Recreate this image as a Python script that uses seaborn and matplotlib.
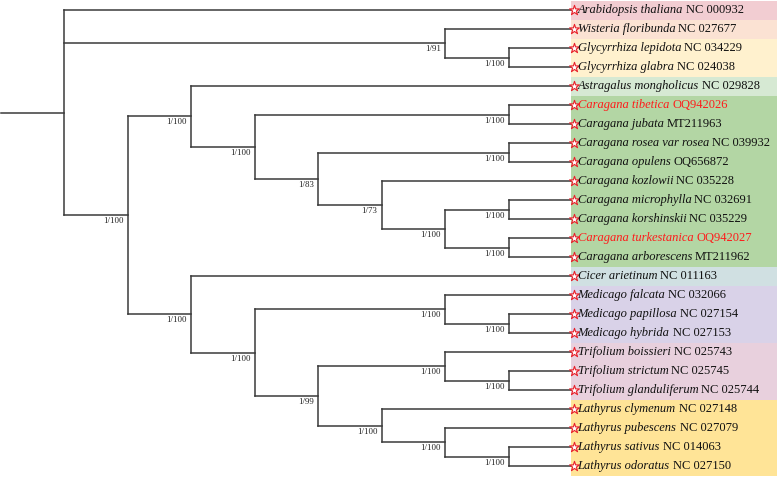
import matplotlib
matplotlib.use("Agg")
import matplotlib.pyplot as plt
import seaborn as sns
import pandas as pd

# ---------------- data ----------------
species = [
    "Arabidopsis thaliana", "Wisteria floribunda", "Glycyrrhiza lepidota", "Glycyrrhiza glabra",
    "Astragalus mongholicus", "Caragana tibetica", "Caragana jubata", "Caragana rosea var rosea",
    "Caragana opulens", "Caragana kozlowii", "Caragana microphylla", "Caragana korshinskii",
    "Caragana turkestanica", "Caragana arborescens", "Cicer arietinum", "Medicago falcata",
    "Medicago papillosa", "Medicago hybrida", "Trifolium boissieri", "Trifolium strictum",
    "Trifolium glanduliferum", "Lathyrus clymenum", "Lathyrus pubescens", "Lathyrus sativus",
    "Lathyrus odoratus",
]
accessions = [
    "NC 000932", "NC 027677", "NC 034229", "NC 024038", "NC 029828", "OQ942026", "MT211963",
    "NC 039932", "OQ656872", "NC 035228", "NC 032691", "NC 035229", "OQ942027", "MT211962",
    "NC 011163", "NC 032066", "NC 027154", "NC 027153", "NC 025743", "NC 025745", "NC 025744",
    "NC 027148", "NC 027079", "NC 014063", "NC 027150",
]
highlighted = ["Caragana tibetica", "Caragana turkestanica"]

# topology (leaf numbers index the lists above), internal labels = support values
newick = ("(0,(1,(2,3)1/100)1/91,((4,((5,6)1/100,((7,8)1/100,(9,((10,11)1/100,(12,13)1/100)1/100)1/73)1/83)1/100)1/100,"
          "(14,((15,(16,17)1/100)1/100,((18,(19,20)1/100)1/100,(21,(22,(23,24)1/100)1/100)1/100)1/99)1/100)1/100)1/100);")

group_sizes = [1, 1, 2, 1, 9, 1, 3, 3, 4]
group_colors = ["#F2CDD2", "#FBE2D3", "#FFF1CE", "#D6E9D3", "#B3D6A4",
                "#D0E0E2", "#D9D2E8", "#E8D0DD", "#FFE497"]

# ---------------- parse tree ----------------
def parse(s):
    pos = 0
    def node():
        nonlocal pos
        if s[pos] == "(":
            pos += 1
            kids = [node()]
            while s[pos] == ",":
                pos += 1
                kids.append(node())
            pos += 1  # ')'
            lab = ""
            while s[pos] not in ",);":
                lab += s[pos]; pos += 1
            return {"children": kids, "label": lab}
        tok = ""
        while s[pos] not in ",);":
            tok += s[pos]; pos += 1
        return {"leaf": int(tok)}
    return node()

root = parse(newick)

def height(n):
    if "leaf" in n:
        n["h"] = 0
    else:
        n["h"] = max(height(c) for c in n["children"]) + 1
    return n["h"]

height(root)
TIP = root["h"] + 1

segs = []
supports = []

def layout(n):
    n["x"] = TIP - n["h"]
    if "leaf" in n:
        n["y"] = n["leaf"]
        return
    for c in n["children"]:
        layout(c)
    ys = [c["y"] for c in n["children"]]
    n["y"] = (ys[0] + ys[-1]) / 2
    segs.append([(n["x"], ys[0]), (n["x"], ys[-1])])
    for c in n["children"]:
        segs.append([(n["x"], c["y"]), (c["x"], c["y"])])
        if "children" in c and c["label"]:
            supports.append((c["x"], c["y"], c["label"]))

layout(root)
segs.append([(0, root["y"]), (root["x"], root["y"])])

rows = []
for i, sg in enumerate(segs):
    for (x, y) in sg:
        rows.append({"seg": i, "x": x, "y": y})
df = pd.DataFrame(rows)

# ---------------- figure ----------------
W, H = 777, 478
fig = plt.figure(figsize=(W / 100, H / 100), dpi=100)
ax = fig.add_axes([0, 0, 1, 1])
sns.set_style("white")
plt.rcParams["font.family"] = ["Liberation Serif", "DejaVu Serif"]

step_px = 63.5
x0_px = 64 - step_px  # x=0 position in px
ax.set_xlim(-x0_px / step_px, (W - x0_px) / step_px)
ax.set_ylim((H - 10) / 19, -10 / 19)
ax.axis("off")

# background bands
px = lambda p: (p - x0_px) / step_px
band_left = px(571)
band_right = px(W + 2)
start = 0
for size, col in zip(group_sizes, group_colors):
    ax.add_patch(plt.Rectangle((band_left, start - 0.5), band_right - band_left, size,
                               facecolor=col, edgecolor="none", zorder=0))
    start += size

sns.lineplot(data=df, x="x", y="y", units="seg", estimator=None, sort=False,
             color="#3a3a3a", lw=1.1, legend=False, ax=ax, zorder=2,
             solid_capstyle="projecting")
ax.set_xlabel(""); ax.set_ylabel("")

# stars
ax.scatter([px(573.5)] * len(species), range(len(species)), marker="*", s=55,
           facecolor="white", edgecolor="#E8202A", linewidths=0.8, zorder=4)

# tip labels
for i, (sp, acc) in enumerate(zip(species, accessions)):
    col = "#FF1A1A" if sp in highlighted else "#111111"
    t = ax.text(px(577.5), i, sp, style="italic", fontsize=9.0, color=col,
                va="center", ha="left", zorder=5)
    ax.annotate(acc, xy=(1, 0.5), xycoords=t, xytext=(2.3, 0), textcoords="offset points",
                fontsize=9.0, color=col, va="center", ha="left", zorder=5)

# support values
for (x, y, lab) in supports:
    ax.annotate(lab, xy=(x, y), xytext=(-3, -1.5), textcoords="offset points",
                ha="right", va="top", fontsize=6.4, color="#222222", zorder=5)

fig.savefig("out.png", dpi=100)
